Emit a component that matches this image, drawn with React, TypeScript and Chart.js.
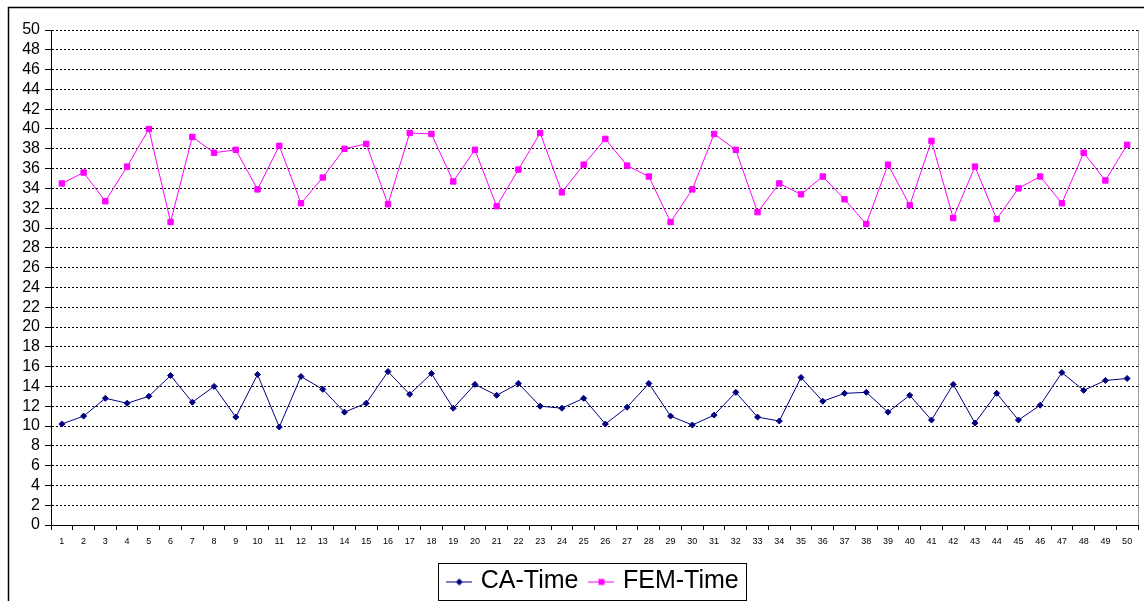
import React, { useEffect, useRef } from 'react';
import { Chart, registerables } from 'chart.js';

Chart.register(...registerables);

const categories = [
  '1', '2', '3', '4', '5', '6', '7', '8', '9', '10',
  '11', '12', '13', '14', '15', '16', '17', '18', '19', '20',
  '21', '22', '23', '24', '25', '26', '27', '28', '29', '30',
  '31', '32', '33', '34', '35', '36', '37', '38', '39', '40',
  '41', '42', '43', '44', '45', '46', '47', '48', '49', '50',
];

const caTime = [
  10.2, 11.0, 12.8, 12.3, 13.0, 15.1, 12.4, 14.0, 10.9, 15.2,
  9.9, 15.0, 13.7, 11.4, 12.3, 15.5, 13.2, 15.3, 11.8, 14.2,
  13.1, 14.3, 12.0, 11.8, 12.8, 10.2, 11.9, 14.3, 11.0, 10.1,
  11.1, 13.4, 10.9, 10.5, 14.9, 12.5, 13.3, 13.4, 11.4, 13.1,
  10.6, 14.2, 10.3, 13.3, 10.6, 12.1, 15.4, 13.6, 14.6, 14.8,
];

const femTime = [
  34.5, 35.6, 32.7, 36.2, 40.0, 30.6, 39.2, 37.6, 37.9, 33.9,
  38.3, 32.5, 35.1, 38.0, 38.5, 32.4, 39.6, 39.5, 34.7, 37.9,
  32.2, 35.9, 39.6, 33.6, 36.4, 39.0, 36.3, 35.2, 30.6, 33.9,
  39.5, 37.9, 31.6, 34.5, 33.4, 35.2, 32.9, 30.4, 36.4, 32.3,
  38.8, 31.0, 36.2, 30.9, 34.0, 35.2, 32.5, 37.6, 34.8, 38.4,
];

const seriesNames = ['CA-Time', 'FEM-Time'];
const yMin = 0;
const yMax = 50;
const yStep = 2;

const FONT = 'Arial, "Liberation Sans", sans-serif';
const CA_COLOR = '#000080';
const FEM_COLOR = '#FF00FF';

const CANVAS_W = 1160;
const CANVAS_H = 610;

function legendSymbol(color: string, kind: 'diamond' | 'square'): HTMLCanvasElement {
  const c = document.createElement('canvas');
  c.width = 26;
  c.height = 12;
  const ctx = c.getContext('2d')!;
  ctx.strokeStyle = color;
  ctx.lineWidth = 1;
  ctx.beginPath();
  ctx.moveTo(0, 6.5);
  ctx.lineTo(26, 6.5);
  ctx.stroke();
  ctx.fillStyle = color;
  if (kind === 'diamond') {
    ctx.beginPath();
    ctx.moveTo(13, 3);
    ctx.lineTo(16.5, 6.5);
    ctx.lineTo(13, 10);
    ctx.lineTo(9.5, 6.5);
    ctx.closePath();
    ctx.fill();
  } else {
    ctx.fillRect(10, 3.5, 6, 6);
  }
  return c;
}

const framePlugin = {
  id: 'frameDecor',
  afterDraw(chart: any) {
    const { ctx, chartArea, legend } = chart;
    ctx.save();
    // outer chart frame
    ctx.strokeStyle = '#000';
    ctx.lineWidth = 1.5;
    ctx.beginPath();
    ctx.moveTo(1.5, chart.height + 10);
    ctx.lineTo(1.5, 1.5);
    ctx.lineTo(chart.width + 10, 1.5);
    ctx.stroke();
    // plot area right border
    ctx.strokeStyle = '#9a9a9a';
    ctx.lineWidth = 1;
    ctx.beginPath();
    ctx.moveTo(Math.round(chartArea.right) + 0.5, chartArea.top);
    ctx.lineTo(Math.round(chartArea.right) + 0.5, chartArea.bottom);
    ctx.stroke();
    // legend box
    const hb = legend && legend.legendHitBoxes;
    if (hb && hb.length) {
      const first = hb[0];
      const last = hb[hb.length - 1];
      const left = Math.round(first.left + 9 - 13 - 8) + 0.5;
      const right = Math.round(last.left + last.width + 7) + 0.5;
      const top = Math.round(first.top - 6) + 0.5;
      const bottom = Math.round(first.top + 31) + 0.5;
      ctx.strokeStyle = '#000';
      ctx.lineWidth = 1;
      ctx.strokeRect(left, top, right - left, bottom - top);
    }
    ctx.restore();
  },
};

export default function App() {
  const canvasRef = useRef<HTMLCanvasElement | null>(null);

  useEffect(() => {
    if (!canvasRef.current) return;
    const symbols = [legendSymbol(CA_COLOR, 'diamond'), legendSymbol(FEM_COLOR, 'square')];
    const chart = new Chart(canvasRef.current, {
      type: 'line',
      data: {
        labels: categories,
        datasets: [
          {
            label: seriesNames[0],
            data: caTime,
            borderColor: CA_COLOR,
            backgroundColor: CA_COLOR,
            borderWidth: 1,
            pointStyle: 'rectRot',
            pointRadius: 3,
            pointBorderWidth: 1,
            pointBorderColor: CA_COLOR,
            pointBackgroundColor: CA_COLOR,
            tension: 0,
          },
          {
            label: seriesNames[1],
            data: femTime,
            borderColor: FEM_COLOR,
            backgroundColor: FEM_COLOR,
            borderWidth: 1,
            pointStyle: 'rect',
            pointRadius: 3.8,
            pointBorderWidth: 1,
            pointBorderColor: FEM_COLOR,
            pointBackgroundColor: FEM_COLOR,
            tension: 0,
          },
        ],
      },
      options: {
        responsive: false,
        animation: false,
        events: [],
        layout: {
          padding: { left: 0, top: 24, right: CANVAS_W - 1131, bottom: 12 },
        },
        plugins: {
          tooltip: { enabled: false },
          title: { display: false },
          legend: {
            display: true,
            position: 'bottom',
            fullSize: false,
            labels: {
              font: { family: FONT, size: 25 },
              color: '#000',
              usePointStyle: true,
              pointStyleWidth: 18,
              padding: 14,
              generateLabels: (ch: any) =>
                ch.data.datasets.map((ds: any, i: number) => ({
                  text: ds.label,
                  pointStyle: symbols[i],
                  fillStyle: ds.borderColor,
                  strokeStyle: ds.borderColor,
                  lineWidth: 0,
                  hidden: false,
                  datasetIndex: i,
                  fontColor: '#000',
                })),
            },
          },
        },
        scales: {
          x: {
            type: 'category',
            offset: true,
            afterFit: (scale: any) => {
              scale.height = 30;
            },
            grid: {
              display: true,
              drawOnChartArea: false,
              drawTicks: true,
              tickLength: 5,
              color: '#000',
              offset: true,
            },
            border: { display: true, color: '#000', width: 1 },
            ticks: {
              font: { family: FONT, size: 9 },
              color: '#000',
              padding: 6,
              maxRotation: 0,
              minRotation: 0,
              autoSkip: false,
            },
          },
          y: {
            type: 'linear',
            min: yMin,
            max: yMax,
            afterFit: (scale: any) => {
              scale.width = 44;
            },
            grid: {
              display: true,
              drawOnChartArea: true,
              drawTicks: true,
              tickLength: 6,
              color: '#000',
              tickColor: '#000',
            },
            border: { display: true, color: '#000', width: 1, dash: [2, 2] },
            ticks: {
              stepSize: yStep,
              autoSkip: false,
              font: { family: FONT, size: 16 },
              color: '#000',
              padding: 5,
            },
          },
        },
      },
      plugins: [framePlugin],
    } as any);
    return () => chart.destroy();
  }, []);

  return (
    <div
      style={{
        position: 'fixed',
        left: 7,
        top: 6,
        width: 1137,
        height: 595,
        overflow: 'hidden',
        background: '#fff',
      }}
    >
      <canvas
        ref={canvasRef}
        width={CANVAS_W}
        height={CANVAS_H}
        style={{ display: 'block', width: CANVAS_W, height: CANVAS_H }}
      />
    </div>
  );
}
